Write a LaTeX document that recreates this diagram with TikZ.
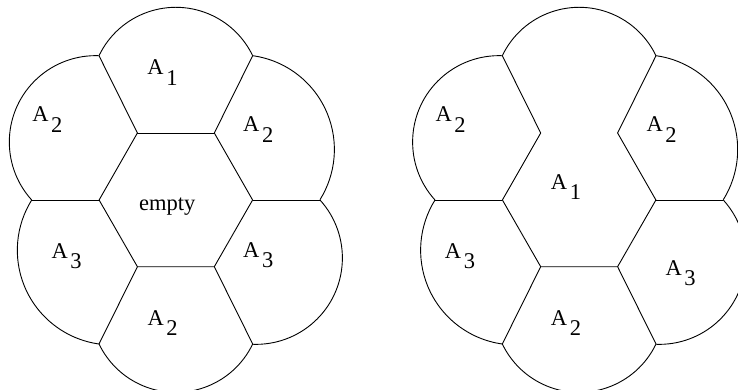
\documentclass[tikz,border=0pt]{standalone}
\usepackage{fontspec}
\setmainfont{Liberation Serif}

\newcommand{\regname}[1]{A\kern2.6pt\raisebox{-10.5pt}{#1}}

\begin{document}
\begin{tikzpicture}[
    x=1pt, y=-1pt,
    edge/.style={draw=black, line width=0.9pt},
    region/.style={inner sep=0pt, anchor=base west, font=\fontsize{22.5}{25}\selectfont},
    word/.style={inner sep=0pt, anchor=base, font=\fontsize{22.5}{25}\selectfont}
]

\useasboundingbox (0,0) rectangle (738,390);
\clip (0,0) rectangle (738,390);

% Corners of both cells
\foreach \s/\dx in {l/0, r/403.3} {
    \coordinate (\s-h1) at (137.4+\dx, 133);
    \coordinate (\s-h2) at (214.3+\dx, 133);
    \coordinate (\s-h3) at (252.6+\dx, 200);
    \coordinate (\s-h4) at (214.3+\dx, 266.7);
    \coordinate (\s-h5) at (137.4+\dx, 266.7);
    \coordinate (\s-h6) at (99.1+\dx, 200);
    \coordinate (\s-o1) at (99+\dx, 55.7);
    \coordinate (\s-o2) at (252.7+\dx, 55.7);
    \coordinate (\s-o3) at (320+\dx, 200);
    \coordinate (\s-o4) at (252.7+\dx, 344);
    \coordinate (\s-o5) at (99+\dx, 344);
    \coordinate (\s-o6) at (31.7+\dx, 200);
}

% Paths
\foreach \s in {l, r} {
    \draw[edge] (\s-h2) -- (\s-h3) -- (\s-h4) -- (\s-h5) -- (\s-h6) -- (\s-h1);
    \foreach \i in {1,...,6}
        \draw[edge] (\s-h\i) -- (\s-o\i);
    \draw[edge] (\s-o6) arc[start angle=137.8, end angle=272.2, radius=86.35];
    \draw[edge] (\s-o1) arc[start angle=-154.4, end angle=-25.6, radius=85.2];
    \draw[edge] (\s-o2) arc[start angle=-82.1, end angle=32.0, radius=94.7];
    \draw[edge] (\s-o3) arc[start angle=-42.2, end angle=92.2, radius=86.35];
    \draw[edge] (\s-o4) arc[start angle=25.6, end angle=154.4, radius=85.2];
    \draw[edge] (\s-o5) arc[start angle=97.9, end angle=212.0, radius=94.7];
}
\draw[edge] (l-h1) -- (l-h2);

% Labels, left
\node[region] (l-a1) at (147.2, 75) {\regname{1}};
\node[region] (l-a2tl) at (32.2, 121.7) {\regname{2}};
\node[region] (l-a2tr) at (243, 131.7) {\regname{2}};
\node[word] (l-empty) at (167.3, 210) {empty};
\node[region] (l-a3l) at (51.4, 258.3) {\regname{3}};
\node[region] (l-a3r) at (243, 257.3) {\regname{3}};
\node[region] (l-a2b) at (147.4, 325) {\regname{2}};

% Labels, right
\node[region] (r-a2tl) at (435.4, 121.7) {\regname{2}};
\node[region] (r-a2tr) at (646.4, 131.7) {\regname{2}};
\node[region] (r-a1) at (550.7, 189.3) {\regname{1}};
\node[region] (r-a3l) at (444.7, 258.3) {\regname{3}};
\node[region] (r-a3r) at (665.4, 275) {\regname{3}};
\node[region] (r-a2b) at (550.7, 325) {\regname{2}};

\end{tikzpicture}
\end{document}
